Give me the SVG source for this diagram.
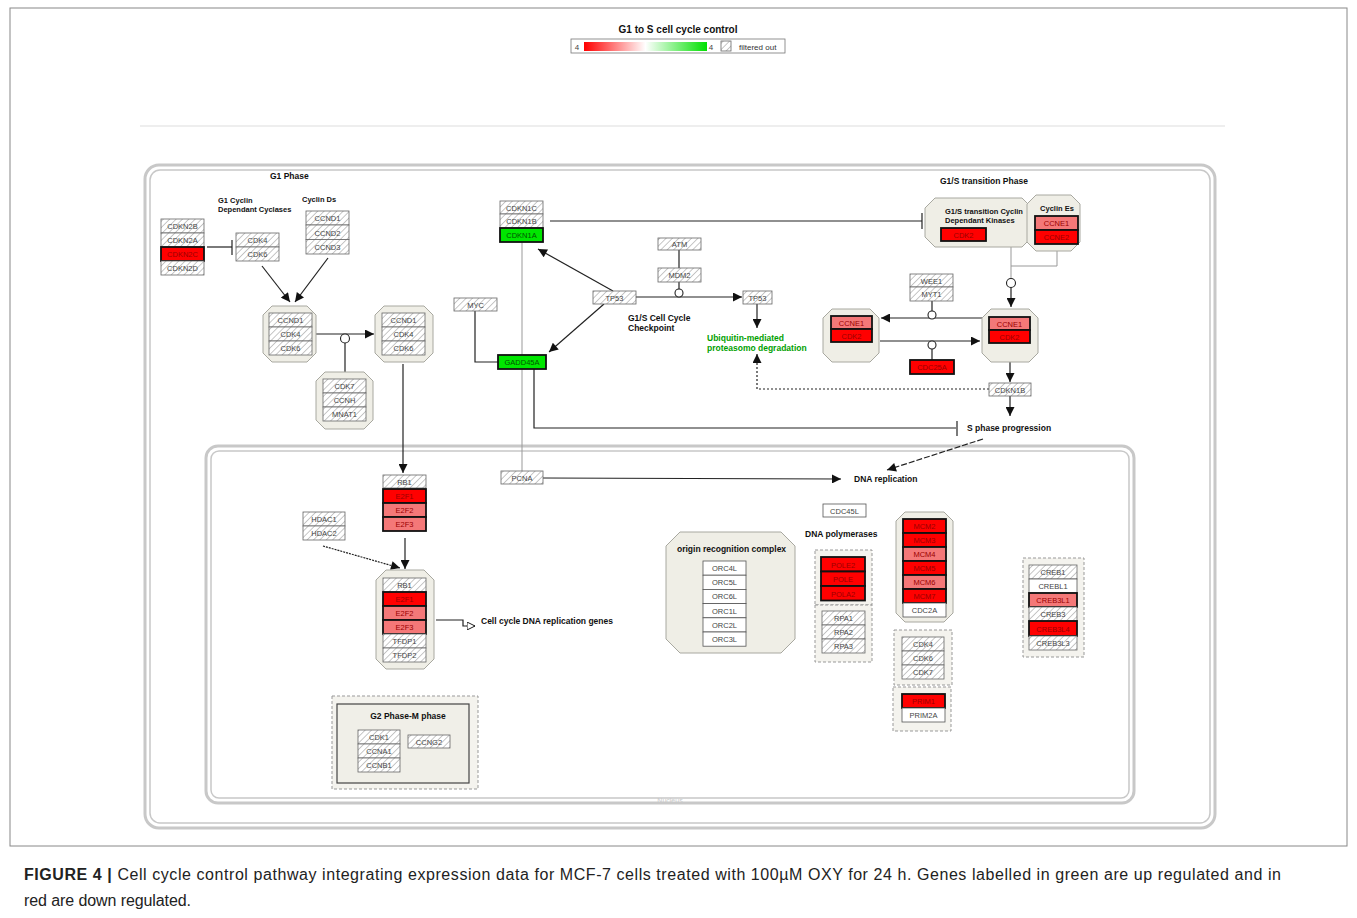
<svg xmlns="http://www.w3.org/2000/svg" width="1357" height="918" viewBox="0 0 1357 918">
<defs>
<pattern id="hatch" width="4.5" height="4.5" patternUnits="userSpaceOnUse" patternTransform="rotate(45)">
<rect width="4.5" height="4.5" fill="#fff"/><line x1="0" y1="0" x2="0" y2="4.5" stroke="#8f8f8f" stroke-width="1"/>
</pattern>
<linearGradient id="grad" x1="0" x2="1" y1="0" y2="0">
<stop offset="0" stop-color="#ff0000"/><stop offset="0.5" stop-color="#ffffff"/><stop offset="1" stop-color="#00e000"/>
</linearGradient>
<marker id="ar" viewBox="0 0 10 10" refX="10" refY="5" markerWidth="10" markerHeight="9" markerUnits="userSpaceOnUse" orient="auto">
<path d="M0,0 L10,5 L0,10 Z" fill="#111"/>
</marker>
<marker id="ao" viewBox="0 0 10 10" refX="10" refY="5" markerWidth="8" markerHeight="8" markerUnits="userSpaceOnUse" orient="auto">
<path d="M0,0 L10,5 L0,10 Z" fill="#fff" stroke="#111" stroke-width="1.2"/>
</marker>
</defs>
<style>
.hb{fill:url(#hatch);stroke:#666;stroke-width:0.8}
.rb{fill:#ff0000;stroke:#111;stroke-width:1.8}
.pb{fill:#f47878;stroke:#111;stroke-width:1.8}
.gb{fill:#00e600;stroke:#111;stroke-width:1.8}
.wb{fill:#fff;stroke:#555;stroke-width:0.8}
.cx{fill:#efeee6;stroke:#a8a8a0;stroke-width:1}
.db{fill:#f4f3ee;stroke:#999;stroke-width:1;stroke-dasharray:3,2}
.g{font-family:'Liberation Sans',Arial,sans-serif;font-size:7.5px;text-anchor:middle;fill:#444}
.gr{font-family:'Liberation Sans',Arial,sans-serif;font-size:7.5px;text-anchor:middle;fill:#900}
.lb{font-family:'Liberation Sans',Arial,sans-serif;font-size:8.5px;font-weight:bold;fill:#111}
.ln{stroke:#222;stroke-width:1.2;fill:none}
.lg{stroke:#999;stroke-width:1;fill:none}
.cell{fill:none;stroke:#c8c8c8}
.cap{font-family:'Liberation Sans',Arial,sans-serif;font-size:16px;fill:#222}
</style>
<rect x="0" y="0" width="1357" height="918" fill="#fff"/>
<rect x="10" y="8" width="1337" height="838" fill="none" stroke="#888" stroke-width="1"/>
<line x1="140" y1="126" x2="1225" y2="126" stroke="#ddd" stroke-width="1"/>

<g id="legend">
<text x="678" y="33" class="lb" style="font-size:10px" text-anchor="middle">G1 to S cell cycle control</text>
<rect x="571" y="39" width="214" height="14" fill="#fff" stroke="#777" stroke-width="0.8"/>
<rect x="584" y="42" width="123" height="9" fill="url(#grad)"/>
<text x="577" y="50" class="g" style="font-size:8px">4</text>
<text x="711" y="50" class="g" style="font-size:8px">4</text>
<rect x="721" y="41" width="10" height="10" class="hb"/>
<text x="739" y="49.5" style="font-family:'Liberation Sans',Arial,sans-serif;font-size:8px;fill:#333">filtered out</text>
</g>

<g id="cell">
<rect x="145" y="165" width="1070" height="663" rx="14" class="cell" stroke-width="3"/>
<rect x="150" y="170" width="1060" height="653" rx="10" class="cell" stroke-width="1.5"/>
</g>
<g id="nucleus">
<rect x="206" y="446" width="928" height="357" rx="12" class="cell" stroke-width="3"/>
<rect x="211" y="451" width="918" height="347" rx="8" class="cell" stroke-width="1.5"/>
<text x="670" y="803" style="font-family:'Liberation Sans',Arial,sans-serif;font-size:7px;fill:#c8c8c8" text-anchor="middle">Nucleus</text>
</g>

<g id="labels">
<text x="270" y="179" class="lb">G1 Phase</text>
<text x="218" y="203" class="lb" style="font-size:7.5px">G1 Cyclin</text>
<text x="218" y="212" class="lb" style="font-size:7.5px">Dependant Cyclases</text>
<text x="302" y="202" class="lb" style="font-size:7.5px">Cyclin Ds</text>
<text x="940" y="184" class="lb">G1/S transition Phase</text>
<text x="628" y="321" class="lb">G1/S Cell Cycle</text>
<text x="628" y="331" class="lb">Checkpoint</text>
<text x="707" y="341" class="lb" style="fill:#00a000">Ubiquitin-mediated</text>
<text x="707" y="351" class="lb" style="fill:#00a000">proteasomo degradation</text>
<text x="967" y="431" class="lb">S phase progression</text>
<text x="854" y="482" class="lb">DNA replication</text>
<text x="481" y="624" class="lb">Cell cycle DNA replication genes</text>
<text x="805" y="537" class="lb">DNA polymerases</text>
</g>

<g id="connectors">
<line x1="207" y1="247" x2="232" y2="247" class="ln"/>
<line x1="232" y1="240" x2="232" y2="255" class="ln" stroke-width="1.6"/>
<line x1="262" y1="266" x2="290" y2="302" class="ln" marker-end="url(#ar)"/>
<line x1="328" y1="258" x2="295" y2="302" class="ln" marker-end="url(#ar)"/>
<line x1="316" y1="334" x2="374" y2="334" class="ln" marker-end="url(#ar)"/>
<line x1="345" y1="343" x2="345" y2="372" class="ln"/>
<circle cx="345" cy="338.5" r="4.5" fill="#fff" stroke="#222" stroke-width="1.1"/>
<line x1="403" y1="364" x2="403" y2="473" class="ln" marker-end="url(#ar)"/>
<line x1="405" y1="538" x2="405" y2="569" class="ln" stroke-width="1.5" marker-end="url(#ar)"/>
<line x1="323" y1="546" x2="400" y2="568" class="ln" stroke-dasharray="2,1" marker-end="url(#ar)"/>
<polyline points="436,620 463,620 463,626 466,626" class="ln"/>
<line x1="466" y1="626" x2="475" y2="626" class="ln" marker-end="url(#ao)"/>
<line x1="550" y1="221" x2="922" y2="221" class="ln"/>
<line x1="922" y1="213" x2="922" y2="229" class="ln" stroke-width="1.6"/>
<line x1="679" y1="250" x2="679" y2="268" class="ln"/>
<line x1="679" y1="282" x2="679" y2="289" class="ln"/>
<line x1="636" y1="297" x2="742" y2="297" class="ln" marker-end="url(#ar)"/>
<circle cx="679" cy="293" r="4" fill="#fff" stroke="#222" stroke-width="1.1"/>
<line x1="613" y1="291" x2="538" y2="249" class="ln" marker-end="url(#ar)"/>
<line x1="604" y1="304" x2="549" y2="352" class="ln" marker-end="url(#ar)"/>
<line x1="522" y1="242" x2="522" y2="355" class="lg"/>
<line x1="522" y1="369" x2="522" y2="471" class="lg"/>
<polyline points="534,369 534,428 956,428" class="ln"/>
<line x1="957" y1="421" x2="957" y2="436" class="ln" stroke-width="1.6"/>
<polyline points="475,311 475,362 498,362" class="ln"/>
<line x1="757" y1="304" x2="757" y2="328" class="ln" marker-end="url(#ar)"/>
<polyline points="989,389 757,389 757,356" class="ln" stroke-dasharray="2,2"/>
<line x1="757" y1="362" x2="757" y2="354" class="ln" marker-end="url(#ar)"/>
<polyline points="1057,251 1057,266 1011,266" class="lg" stroke="#777"/>
<line x1="1011" y1="247" x2="1011" y2="278.5" class="lg" stroke="#777"/>
<circle cx="1011" cy="283" r="4.5" fill="#fff" stroke="#222" stroke-width="1.1"/>
<line x1="1011" y1="287.5" x2="1011" y2="307" class="ln" marker-end="url(#ar)"/>
<line x1="982" y1="318" x2="881" y2="318" class="ln" marker-end="url(#ar)"/>
<line x1="932" y1="301" x2="932" y2="311" class="ln"/>
<circle cx="932" cy="315" r="4" fill="#fff" stroke="#222" stroke-width="1.1"/>
<line x1="880" y1="341" x2="980" y2="341" class="ln" marker-end="url(#ar)"/>
<circle cx="932" cy="345" r="4" fill="#fff" stroke="#222" stroke-width="1.1"/>
<line x1="932" y1="349" x2="932" y2="360" class="ln"/>
<line x1="1010" y1="362" x2="1010" y2="382" class="ln" marker-end="url(#ar)"/>
<line x1="1010" y1="396" x2="1010" y2="416" class="ln" marker-end="url(#ar)"/>
<line x1="983" y1="439" x2="887" y2="470" class="ln" stroke-dasharray="6,2" marker-end="url(#ar)"/>
<line x1="543" y1="478" x2="841" y2="479" class="ln" marker-end="url(#ar)"/>
</g>

<g id="cdkn2">
<rect x="161" y="219" width="43" height="14" class="hb"/><text x="182.5" y="229" class="g">CDKN2B</text>
<rect x="161" y="233" width="43" height="14" class="hb"/><text x="182.5" y="243" class="g">CDKN2A</text>
<rect x="161" y="247" width="43" height="14" class="rb"/><text x="182.5" y="257" class="gr">CDKN2C</text>
<rect x="161" y="261" width="43" height="14" class="hb"/><text x="182.5" y="271" class="g">CDKN2D</text>
</g>
<g id="cdk46">
<rect x="236" y="233" width="43" height="14" class="hb"/><text x="257.5" y="243" class="g">CDK4</text>
<rect x="236" y="247" width="43" height="14" class="hb"/><text x="257.5" y="257" class="g">CDK6</text>
</g>
<g id="ccnd">
<rect x="306" y="211" width="43" height="14" class="hb"/><text x="327.5" y="221" class="g">CCND1</text>
<rect x="306" y="225" width="43" height="14.5" class="hb"/><text x="327.5" y="235.5" class="g">CCND2</text>
<rect x="306" y="239.5" width="43" height="14.5" class="hb"/><text x="327.5" y="250" class="g">CCND3</text>
</g>
<g id="complex1">
<path d="M272,306 L307,306 L316,315 L316,353 L307,362 L272,362 L263,353 L263,315 Z" class="cx"/>
<rect x="269" y="313" width="43" height="14" class="hb"/><text x="290.5" y="323" class="g">CCND1</text>
<rect x="269" y="327" width="43" height="14" class="hb"/><text x="290.5" y="337" class="g">CDK4</text>
<rect x="269" y="341" width="43" height="14" class="hb"/><text x="290.5" y="351" class="g">CDK6</text>
</g>
<g id="complex2">
<path d="M384,306 L424,306 L433,315 L433,353 L424,362 L384,362 L375,353 L375,315 Z" class="cx"/>
<rect x="382" y="313" width="43" height="14" class="hb"/><text x="403.5" y="323" class="g">CCND1</text>
<rect x="382" y="327" width="43" height="14" class="hb"/><text x="403.5" y="337" class="g">CDK4</text>
<rect x="382" y="341" width="43" height="14" class="hb"/><text x="403.5" y="351" class="g">CDK6</text>
</g>
<g id="complex3">
<path d="M325,372 L364,372 L373,381 L373,420 L364,429 L325,429 L316,420 L316,381 Z" class="cx"/>
<rect x="323" y="379" width="43" height="14" class="hb"/><text x="344.5" y="389" class="g">CDK7</text>
<rect x="323" y="393" width="43" height="14" class="hb"/><text x="344.5" y="403" class="g">CCNH</text>
<rect x="323" y="407" width="43" height="14" class="hb"/><text x="344.5" y="417" class="g">MNAT1</text>
</g>
<g id="rb1e2f">
<rect x="383" y="475" width="43" height="13" class="hb"/><text x="404.5" y="484.5" class="g">RB1</text>
<rect x="383" y="489" width="43" height="14" class="rb"/><text x="404.5" y="499" class="gr">E2F1</text>
<rect x="383" y="503" width="43" height="14" class="pb"/><text x="404.5" y="513" class="gr">E2F2</text>
<rect x="383" y="517" width="43" height="14" class="pb"/><text x="404.5" y="527" class="gr">E2F3</text>
</g>
<g id="hdac">
<rect x="303" y="512" width="42" height="14" class="hb"/><text x="324" y="522" class="g">HDAC1</text>
<rect x="303" y="526" width="42" height="14" class="hb"/><text x="324" y="536" class="g">HDAC2</text>
</g>
<g id="complex4">
<path d="M386,570 L424,570 L434,580 L434,659 L424,669 L386,669 L376,659 L376,580 Z" class="cx"/>
<rect x="383" y="578" width="43" height="14" class="hb"/><text x="404.5" y="588" class="g">RB1</text>
<rect x="383" y="592" width="43" height="14" class="rb"/><text x="404.5" y="602" class="gr">E2F1</text>
<rect x="383" y="606" width="43" height="14" class="pb"/><text x="404.5" y="616" class="gr">E2F2</text>
<rect x="383" y="620" width="43" height="14" class="pb"/><text x="404.5" y="630" class="gr">E2F3</text>
<rect x="383" y="634" width="43" height="14" class="hb"/><text x="404.5" y="644" class="g">TFDP1</text>
<rect x="383" y="648" width="43" height="14" class="hb"/><text x="404.5" y="658" class="g">TFDP2</text>
</g>
<g id="cdkn1">
<rect x="500" y="201" width="43" height="13" class="hb"/><text x="521.5" y="210.5" class="g">CDKN1C</text>
<rect x="500" y="214" width="43" height="14" class="hb"/><text x="521.5" y="224" class="g">CDKN1B</text>
<rect x="500" y="228" width="43" height="14" class="gb"/><text x="521.5" y="238" class="g" style="fill:#050">CDKN1A</text>
</g>
<g id="atm"><rect x="658" y="238" width="43" height="12" class="hb"/><text x="679.5" y="247" class="g">ATM</text></g>
<g id="mdm2"><rect x="658" y="268" width="43" height="14" class="hb"/><text x="679.5" y="278" class="g">MDM2</text></g>
<g id="tp53a"><rect x="593" y="291" width="43" height="13" class="hb"/><text x="614.5" y="300.5" class="g">TP53</text></g>
<g id="tp53b"><rect x="743" y="291" width="29" height="13" class="hb"/><text x="757.5" y="300.5" class="g">TP53</text></g>
<g id="myc"><rect x="454" y="298" width="43" height="13" class="hb"/><text x="475.5" y="307.5" class="g">MYC</text></g>
<g id="gadd45a"><rect x="498" y="355" width="48" height="14" class="gb"/><text x="522" y="365" class="g" style="fill:#050">GADD45A</text></g>
<g id="pcna"><rect x="501" y="471" width="42" height="13" class="hb"/><text x="522" y="480.5" class="g">PCNA</text></g>

<g id="g1s-cdk">
<path d="M935,198 L1022,198 L1032,208 L1032,237 L1022,247 L935,247 L925,237 L925,208 Z" class="cx"/>
<text x="945" y="214" class="lb" style="font-size:7.5px">G1/S transition Cyclin</text>
<text x="945" y="223" class="lb" style="font-size:7.5px">Dependant Kinases</text>
<rect x="941" y="228" width="45" height="13" class="rb"/><text x="963.5" y="237.5" class="gr">CDK2</text>
</g>
<g id="cyclin-es">
<path d="M1036,195 L1071,195 L1080,204 L1080,242 L1071,251 L1036,251 L1027,242 L1027,204 Z" class="cx"/>
<text x="1057" y="211" class="lb" style="font-size:7.5px" text-anchor="middle">Cyclin Es</text>
<rect x="1035" y="216" width="43" height="14" class="pb"/><text x="1056.5" y="226" class="gr">CCNE1</text>
<rect x="1035" y="230" width="43" height="14" class="rb"/><text x="1056.5" y="240" class="gr">CCNE2</text>
</g>
<g id="wee1">
<rect x="910" y="274" width="43" height="13" class="hb"/><text x="931.5" y="283.5" class="g">WEE1</text>
<rect x="910" y="287" width="43" height="14" class="hb"/><text x="931.5" y="297" class="g">MYT1</text>
</g>
<g id="ccne-cdk2-right">
<path d="M991,309 L1029,309 L1038,318 L1038,353 L1029,362 L991,362 L982,353 L982,318 Z" class="cx"/>
<rect x="989" y="317" width="41" height="13" class="pb"/><text x="1009.5" y="326.5" class="gr">CCNE1</text>
<rect x="989" y="330" width="41" height="13" class="rb"/><text x="1009.5" y="339.5" class="gr">CDK2</text>
</g>
<g id="ccne-cdk2-left">
<path d="M832,309 L870,309 L879,318 L879,353 L870,362 L832,362 L823,353 L823,318 Z" class="cx"/>
<rect x="831" y="316" width="41" height="13" class="pb"/><text x="851.5" y="325.5" class="gr">CCNE1</text>
<rect x="831" y="329" width="41" height="13" class="rb"/><text x="851.5" y="338.5" class="gr">CDK2</text>
</g>
<g id="cdc25a"><rect x="910" y="360" width="44" height="14" class="rb"/><text x="932" y="370" class="gr">CDC25A</text></g>
<g id="cdkn1b-2"><rect x="989" y="383" width="42" height="13" class="hb"/><text x="1010" y="392.5" class="g">CDKN1B</text></g>

<g id="cdc45l"><rect x="823" y="504" width="43" height="13" class="wb"/><text x="844.5" y="513.5" class="g">CDC45L</text></g>
<g id="orc">
<path d="M680,532 L781,532 L795,546 L795,639 L781,653 L680,653 L666,639 L666,546 Z" class="cx"/>
<text x="677" y="552" class="lb">origin recognition complex</text>
<rect x="703" y="561" width="43" height="14.2" class="wb"/><text x="724.5" y="571" class="g">ORC4L</text>
<rect x="703" y="575.2" width="43" height="14.2" class="wb"/><text x="724.5" y="585.2" class="g">ORC5L</text>
<rect x="703" y="589.4" width="43" height="14.2" class="wb"/><text x="724.5" y="599.4" class="g">ORC6L</text>
<rect x="703" y="603.6" width="43" height="14.2" class="wb"/><text x="724.5" y="613.6" class="g">ORC1L</text>
<rect x="703" y="617.8" width="43" height="14.2" class="wb"/><text x="724.5" y="627.8" class="g">ORC2L</text>
<rect x="703" y="632" width="43" height="14.2" class="wb"/><text x="724.5" y="642" class="g">ORC3L</text>
</g>
<g id="pol">
<rect x="815" y="550" width="57" height="55" class="db"/>
<rect x="821" y="557" width="44" height="14.5" class="rb"/><text x="843" y="567.5" class="gr">POLE2</text>
<rect x="821" y="571.5" width="44" height="14.5" class="rb"/><text x="843" y="582" class="gr">POLE</text>
<rect x="821" y="586" width="44" height="14.5" class="rb"/><text x="843" y="596.5" class="gr">POLA2</text>
</g>
<g id="rpa">
<rect x="815" y="605" width="57" height="57" class="db"/>
<rect x="822" y="611" width="43" height="14" class="hb"/><text x="843.5" y="621" class="g">RPA1</text>
<rect x="822" y="625" width="43" height="14" class="hb"/><text x="843.5" y="635" class="g">RPA2</text>
<rect x="822" y="639" width="43" height="14" class="hb"/><text x="843.5" y="649" class="g">RPA3</text>
</g>
<g id="mcm">
<path d="M905,512 L944,512 L953,521 L953,613 L944,622 L905,622 L896,613 L896,521 Z" class="cx"/>
<rect x="903" y="519" width="43" height="14" class="rb"/><text x="924.5" y="529" class="gr">MCM2</text>
<rect x="903" y="533" width="43" height="14" class="rb"/><text x="924.5" y="543" class="gr">MCM3</text>
<rect x="903" y="547" width="43" height="14" class="pb"/><text x="924.5" y="557" class="gr">MCM4</text>
<rect x="903" y="561" width="43" height="14" class="rb"/><text x="924.5" y="571" class="gr">MCM5</text>
<rect x="903" y="575" width="43" height="14" class="pb"/><text x="924.5" y="585" class="gr">MCM6</text>
<rect x="903" y="589" width="43" height="14" class="rb"/><text x="924.5" y="599" class="gr">MCM7</text>
<rect x="903" y="603" width="43" height="14" class="wb"/><text x="924.5" y="613" class="g">CDC2A</text>
</g>
<g id="cdk467">
<rect x="894" y="630" width="58" height="55" class="db"/>
<rect x="902" y="637" width="42" height="14" class="hb"/><text x="923" y="647" class="g">CDK4</text>
<rect x="902" y="651" width="42" height="14" class="hb"/><text x="923" y="661" class="g">CDK6</text>
<rect x="902" y="665" width="42" height="14" class="hb"/><text x="923" y="675" class="g">CDK7</text>
</g>
<g id="prim">
<rect x="893" y="687" width="58" height="44" class="db"/>
<rect x="902" y="694" width="43" height="14" class="rb"/><text x="923.5" y="704" class="gr">PRIM1</text>
<rect x="902" y="708" width="43" height="14" class="wb"/><text x="923.5" y="718" class="g">PRIM2A</text>
</g>
<g id="creb">
<rect x="1023" y="558" width="61" height="99" class="db"/>
<rect x="1029" y="565" width="48" height="14" class="hb"/><text x="1053" y="575" class="g">CREB1</text>
<rect x="1029" y="579" width="48" height="14" class="wb"/><text x="1053" y="589" class="g">CREBL1</text>
<rect x="1029" y="593" width="48" height="14" class="pb"/><text x="1053" y="603" class="gr">CREB3L1</text>
<rect x="1029" y="607" width="48" height="14" class="hb"/><text x="1053" y="617" class="g">CREB3</text>
<rect x="1029" y="621" width="48" height="15" class="rb"/><text x="1053" y="631.5" class="gr">CREB3L4</text>
<rect x="1029" y="636" width="48" height="14" class="hb"/><text x="1053" y="646" class="g">CREB3L3</text>
</g>
<g id="g2m">
<rect x="332" y="696" width="146" height="93" class="db"/>
<rect x="337" y="704" width="132" height="79" fill="#f0efe8" stroke="#444" stroke-width="1.2"/>
<text x="408" y="719" class="lb" text-anchor="middle">G2 Phase-M phase</text>
<rect x="358" y="730" width="42" height="14" class="hb"/><text x="379" y="740" class="g">CDK1</text>
<rect x="358" y="744" width="42" height="14" class="hb"/><text x="379" y="754" class="g">CCNA1</text>
<rect x="358" y="758" width="42" height="14" class="hb"/><text x="379" y="768" class="g">CCNB1</text>
<rect x="408" y="735" width="42" height="13" class="hb"/><text x="429" y="744.5" class="g">CCNG2</text>
</g>

<g id="caption">
<text x="24" y="880" class="cap" textLength="1257" lengthAdjust="spacing"><tspan font-weight="bold">FIGURE 4 |</tspan> Cell cycle control pathway integrating expression data for MCF-7 cells treated with 100µM OXY for 24 h. Genes labelled in green are up regulated and in</text>
<text x="24" y="906" class="cap" textLength="167" lengthAdjust="spacing">red are down regulated.</text>
</g>
</svg>
